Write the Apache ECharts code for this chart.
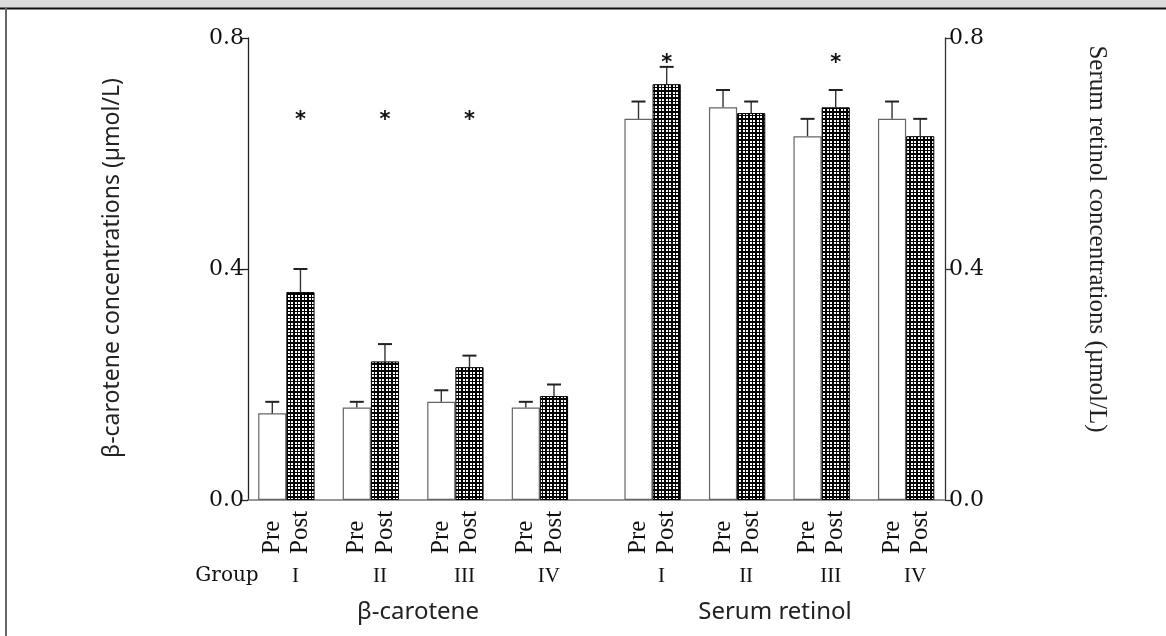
<!DOCTYPE html>
<html>
<head>
<meta charset="utf-8">
<script src="https://cdn.jsdelivr.net/npm/echarts@6/dist/echarts.min.js"></script>
<style>
  html, body { margin: 0; padding: 0; background: #fff; }
  #main { width: 1166px; height: 636px; }
</style>
</head>
<body>
<div id="main"></div>
<script>
// data (mean + error bar length)
const groups = ['I', 'II', 'III', 'IV'];
const caroPre = [0.15, 0.16, 0.17, 0.16];
const caroPreErr = [0.02, 0.01, 0.02, 0.01];
const caroPost = [0.36, 0.24, 0.23, 0.18];
const caroPostErr = [0.04, 0.03, 0.02, 0.02];
const retPre = [0.66, 0.68, 0.63, 0.66];
const retPreErr = [0.03, 0.03, 0.03, 0.03];
const retPost = [0.72, 0.67, 0.68, 0.63];
const retPostErr = [0.03, 0.02, 0.03, 0.03];
// height of the significance asterisks (null = none)
const caroStar = [0.665, 0.665, 0.665, null];
const retStar = [0.765, null, 0.765, null];

// 24 slots: Pre, Post, gap ... ; two blank slots between the two panels
const slots = [];
const barData = [];
const errData = [];
const starData = [];
const groupData = [];

// black fill with small white squares
let patternTile = document.createElement('canvas');
patternTile.width = 7;
patternTile.height = 7;
let pctx = patternTile.getContext('2d');
pctx.fillStyle = '#000';
pctx.fillRect(0, 0, 7, 7);
pctx.fillStyle = '#fff';
[[1, 1], [4, 1], [1, 4], [4, 4]].forEach(function (p) {
  pctx.fillRect(p[0], p[1], 2, 2);
});

const preStyle = { color: '#fff', borderColor: '#666', borderWidth: 1.2 };
const postStyle = { color: { image: patternTile, repeat: 'repeat' }, borderColor: '#000', borderWidth: 1 };

function addPanel(pre, preErr, post, postErr, stars) {
  for (let g = 0; g < 4; g++) {
    if (g > 0) { slots.push(''); barData.push('-'); }
    let i = slots.length;
    slots.push('Pre');
    barData.push({ value: pre[g], itemStyle: preStyle });
    errData.push([i, pre[g], pre[g] + preErr[g]]);
    slots.push('Post');
    barData.push({ value: post[g], itemStyle: postStyle });
    errData.push([i + 1, post[g], post[g] + postErr[g]]);
    if (stars[g] != null) starData.push([i + 1, stars[g]]);
    groupData.push([i + 1, 0]);
  }
}
addPanel(caroPre, caroPreErr, caroPost, caroPostErr, caroStar);
slots.push(''); barData.push('-');
slots.push(''); barData.push('-');
addPanel(retPre, retPreErr, retPost, retPostErr, retStar);

let myChart = echarts.init(document.getElementById('main'));

const tickFont = { fontFamily: 'DejaVu Serif', fontSize: 22, color: '#111' };

let option = {
  backgroundColor: '#fff',
  animation: false,
  grid: [
    { left: 248, right: 221, top: 38, bottom: 136 },   // axes frame
    { left: 258.2, right: 231.7, top: 38, bottom: 136 } // bars
  ],
  xAxis: [
    {
      gridIndex: 0, type: 'value', min: 0, max: 1,
      axisLine: { show: true, lineStyle: { color: '#777', width: 1.5 } },
      axisTick: { show: false }, axisLabel: { show: false }, splitLine: { show: false }
    },
    {
      gridIndex: 1, type: 'category', data: slots,
      axisLine: { show: false }, axisTick: { show: false }, splitLine: { show: false },
      axisLabel: {
        interval: 0, rotate: 90, align: 'left', verticalAlign: 'middle', margin: 54,
        fontFamily: 'Liberation Serif', fontSize: 25, color: '#111'
      }
    }
  ],
  yAxis: [
    {
      gridIndex: 0, type: 'value', position: 'left', min: 0, max: 0.8, interval: 0.4,
      axisLine: { show: true, lineStyle: { color: '#222', width: 1.3 } },
      axisTick: { show: true, length: 6, lineStyle: { color: '#222', width: 1.3 } },
      axisLabel: Object.assign({ margin: 4, formatter: v => v.toFixed(1) }, tickFont),
      splitLine: { show: false }
    },
    {
      gridIndex: 0, type: 'value', position: 'right', min: 0, max: 0.8, interval: 0.4,
      axisLine: { show: true, lineStyle: { color: '#333', width: 1.3 } },
      axisTick: { show: true, length: 6, lineStyle: { color: '#333', width: 1.3 } },
      axisLabel: Object.assign({ margin: 4, formatter: v => v.toFixed(1) }, tickFont),
      splitLine: { show: false }
    },
    {
      gridIndex: 1, type: 'value', min: 0, max: 0.8, show: false
    }
  ],
  series: [
    {
      type: 'bar', xAxisIndex: 1, yAxisIndex: 2,
      barCategoryGap: '0%',
      data: barData,
      z: 2
    },
    {
      type: 'custom', xAxisIndex: 1, yAxisIndex: 2, z: 3,
      data: errData,
      renderItem: function (params, api) {
        let base = api.coord([api.value(0), api.value(1)]);
        let top = api.coord([api.value(0), api.value(2)]);
        let cap = 7;
        return {
          type: 'group',
          children: [
            { type: 'line', shape: { x1: base[0], y1: base[1], x2: top[0], y2: top[1] }, style: { stroke: '#333', lineWidth: 1.4 } },
            { type: 'line', shape: { x1: top[0] - cap, y1: top[1], x2: top[0] + cap, y2: top[1] }, style: { stroke: '#222', lineWidth: 2 } }
          ]
        };
      }
    },
    {
      type: 'custom', xAxisIndex: 1, yAxisIndex: 2, z: 3,
      data: starData,
      renderItem: function (params, api) {
        let p = api.coord([api.value(0), api.value(1)]);
        return {
          type: 'text', x: p[0], y: p[1] + 5,
          style: { text: '*', font: 'bold 21px DejaVu Sans', fill: '#111', align: 'center', verticalAlign: 'middle' }
        };
      }
    },
    {
      // group numerals under each Pre/Post pair
      type: 'custom', xAxisIndex: 1, yAxisIndex: 2, z: 3,
      data: groupData,
      renderItem: function (params, api) {
        let p = api.coord([api.value(0), 0]);
        let band = api.size([1, 0])[0];
        return {
          type: 'text', x: p[0] - band * 0.18, y: p[1] + 76,
          style: { text: groups[params.dataIndex % 4], font: '21px Liberation Serif', fill: '#111', align: 'center', verticalAlign: 'middle' }
        };
      }
    }
  ],
  graphic: [
    { type: 'rect', shape: { x: 0, y: 0, width: 1166, height: 8 }, style: { fill: '#dcdcdc' } },
    { type: 'line', shape: { x1: 0, y1: 8.5, x2: 1166, y2: 8.5 }, style: { stroke: '#111', lineWidth: 2 } },
    { type: 'line', shape: { x1: 6, y1: 8, x2: 6, y2: 636 }, style: { stroke: '#666', lineWidth: 2 } },
    {
      type: 'text', x: 112, y: 268, rotation: Math.PI / 2,
      style: { text: 'β-carotene concentrations (µmol/L)', font: '23px Noto Sans', fill: '#222', align: 'center', verticalAlign: 'middle' }
    },
    {
      type: 'text', x: 1097, y: 239, rotation: -Math.PI / 2,
      style: { text: 'Serum retinol concentrations (µmol/L)', font: '25px Liberation Serif', fill: '#222', align: 'center', verticalAlign: 'middle' }
    },
    {
      type: 'text', x: 227, y: 576,
      style: { text: 'Group', font: '20px DejaVu Serif', fill: '#111', align: 'center', verticalAlign: 'middle' }
    },
    {
      type: 'text', x: 418, y: 612,
      style: { text: 'β-carotene', font: '24px Noto Sans', fill: '#222', align: 'center', verticalAlign: 'middle' }
    },
    {
      type: 'text', x: 775, y: 612,
      style: { text: 'Serum retinol', font: '24px Noto Sans', fill: '#222', align: 'center', verticalAlign: 'middle' }
    }
  ]
};
myChart.setOption(option);
</script>
</body>
</html>
